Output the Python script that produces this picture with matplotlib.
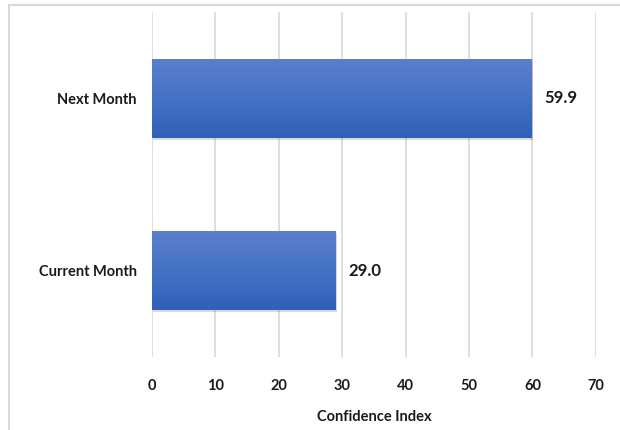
import matplotlib
matplotlib.use("Agg")
import matplotlib.pyplot as plt
import matplotlib.patches as patches
import numpy as np

categories = ["Current Month", "Next Month"]
values = [29.0, 59.9]
xticks = [0, 10, 20, 30, 40, 50, 60, 70]

plt.rcParams['font.family'] = ['Lato', 'DejaVu Sans']

fig = plt.figure(figsize=(6.2, 4.3), dpi=100)
ax = fig.add_axes([0.245, 0.170, 0.716, 0.802])

# outer chart border (light grey, runs off the right/bottom edge)
border = patches.Rectangle((9 / 620, -0.1), 1.2, 1 - 5 / 430 + 0.1,
                           transform=fig.transFigure, fill=False,
                           edgecolor="#D9D9D9", linewidth=1.5)
fig.patches.append(border)

h = 0.46
ypos = np.arange(len(categories))
# gradient for bars
grad = np.linspace(0, 1, 256).reshape(-1, 1)
cmap = matplotlib.colors.LinearSegmentedColormap.from_list(
    "g", ["#5B80CD", "#4472C4", "#2F5FB8"])

for y, v in zip(ypos, values):
    # soft shadow
    sh = patches.Rectangle((0.2, y - h / 2 - 0.012), v, h, facecolor="#000000",
                           alpha=0.15, edgecolor="none", zorder=2)
    ax.add_patch(sh)
    bar = ax.barh(y, v, height=h, color="#4472C4", zorder=3)[0]
    im = ax.imshow(grad, cmap=cmap, aspect="auto",
                   extent=[0, v, y - h / 2, y + h / 2], origin="upper", zorder=3)
    im.set_clip_path(bar)
    ax.text(v + 2.0, y, f"{v:.1f}", va="center", ha="left",
            fontsize=12, fontweight="bold", color="#1a1a1a")

ax.set_xlim(0, 70)
ax.set_ylim(-0.5, 1.5)
ax.set_xticks(xticks)
ax.set_yticks(ypos)
ax.set_yticklabels(categories)
ax.tick_params(axis="both", length=0, labelsize=10.5)
ax.tick_params(axis="x", pad=16)
ax.tick_params(axis="y", pad=11)
for lab in ax.get_xticklabels() + ax.get_yticklabels():
    lab.set_fontweight("bold")
    lab.set_color("#1a1a1a")
ax.xaxis.grid(True, color="#D9D9D9", linewidth=1.2, zorder=0)
ax.set_axisbelow(True)
for s in ax.spines.values():
    s.set_visible(False)
ax.set_xlabel("Confidence Index", fontsize=10.5, fontweight="bold",
              color="#1a1a1a", labelpad=12)

fig.savefig("out.png", dpi=100)
